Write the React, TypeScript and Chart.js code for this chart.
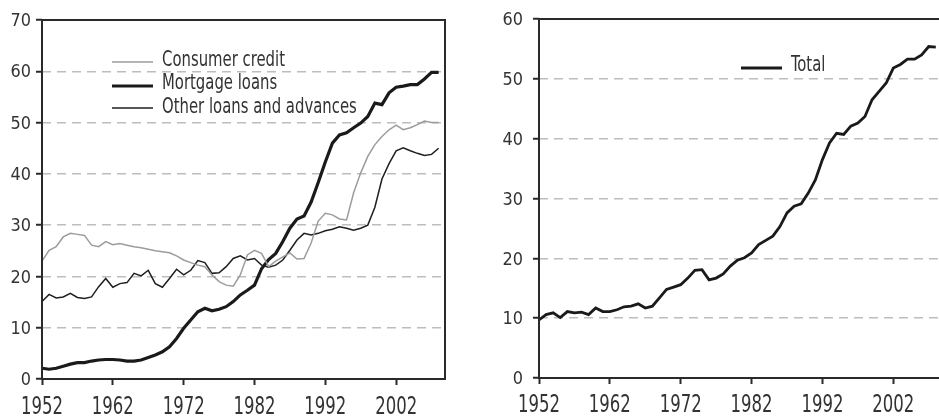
import React, { useEffect, useRef } from "react";
import { Chart, registerables } from "chart.js";

Chart.register(...registerables);

const years = [
  1952, 1953, 1954, 1955, 1956, 1957, 1958, 1959, 1960, 1961,
  1962, 1963, 1964, 1965, 1966, 1967, 1968, 1969, 1970, 1971,
  1972, 1973, 1974, 1975, 1976, 1977, 1978, 1979, 1980, 1981,
  1982, 1983, 1984, 1985, 1986, 1987, 1988, 1989, 1990, 1991,
  1992, 1993, 1994, 1995, 1996, 1997, 1998, 1999, 2000, 2001,
  2002, 2003, 2004, 2005, 2006, 2007, 2008,
];

const consumerCredit = [
  23.0, 25.1, 25.8, 27.7, 28.4, 28.2, 28.0, 26.1, 25.8, 26.8,
  26.2, 26.4, 26.1, 25.8, 25.6, 25.3, 25.0, 24.8, 24.6, 24.0,
  23.2, 22.7, 22.2, 21.9, 20.3, 19.0, 18.3, 18.1, 20.3, 24.2,
  25.1, 24.5, 21.9, 23.0, 23.8, 24.6, 23.4, 23.5, 26.5, 30.8,
  32.3, 32.0, 31.2, 31.0, 36.3, 40.2, 43.4, 45.7, 47.3, 48.6,
  49.5, 48.6, 49.0, 49.6, 50.3, 50.0, 50.0,
];

const mortgageLoans = [
  2.1, 1.9, 2.1, 2.5, 2.9, 3.2, 3.2, 3.5, 3.7, 3.8,
  3.8, 3.7, 3.5, 3.5, 3.7, 4.2, 4.7, 5.3, 6.3, 7.9,
  9.9, 11.5, 13.1, 13.8, 13.3, 13.6, 14.1, 15.1, 16.4, 17.3,
  18.3, 21.5, 23.3, 24.5, 26.8, 29.4, 31.2, 31.8, 34.5, 38.3,
  42.3, 46.0, 47.6, 48.0, 49.0, 49.9, 51.2, 53.8, 53.5, 55.8,
  56.9, 57.1, 57.4, 57.4, 58.5, 59.8, 59.8,
];

const otherLoans = [
  15.1, 16.5, 15.8, 16.0, 16.7, 15.9, 15.7, 16.0, 18.0, 19.6,
  17.9, 18.6, 18.8, 20.6, 20.1, 21.2, 18.6, 17.9, 19.6, 21.4,
  20.3, 21.2, 23.1, 22.7, 20.6, 20.7, 21.9, 23.5, 24.0, 23.2,
  23.5, 22.2, 21.8, 22.2, 23.2, 25.1, 27.1, 28.4, 28.1, 28.4,
  28.9, 29.2, 29.7, 29.4, 29.0, 29.4, 30.0, 33.5, 39.0, 42.0,
  44.5, 45.1, 44.5, 44.0, 43.6, 43.8, 45.0,
];

const total = [
  9.7, 10.6, 10.9, 10.1, 11.1, 10.9, 11.0, 10.6, 11.7, 11.1,
  11.1, 11.4, 11.9, 12.0, 12.4, 11.7, 12.0, 13.4, 14.8, 15.2,
  15.6, 16.7, 18.0, 18.1, 16.4, 16.7, 17.4, 18.7, 19.7, 20.1,
  20.9, 22.3, 23.0, 23.7, 25.3, 27.6, 28.7, 29.1, 30.9, 33.1,
  36.5, 39.3, 40.9, 40.7, 42.1, 42.6, 43.7, 46.5, 47.9, 49.3,
  51.8, 52.4, 53.3, 53.3, 54.0, 55.4, 55.3,
];

const xTickYears = [1952, 1962, 1972, 1982, 1992, 2002];
const leftYTicks = [0, 10, 20, 30, 40, 50, 60, 70];
const rightYTicks = [0, 10, 20, 30, 40, 50, 60];

const leftLegend = ["Consumer credit", "Mortgage loans", "Other loans and advances"];
const rightLegend = ["Total"];

const AXIS_COLOR = "#2a2a2a";
const TEXT_COLOR = "#333333";
const GRID_COLOR = "#bdbdbd";
const FONT = "'DejaVu Sans Condensed', 'DejaVu Sans', sans-serif";

type LegendItem = { label: string; color: string; width: number; y: number; textY: number };

type FrameCfg = {
  drawRight: boolean;
  yTicks: number[];
  yLabelGap: number;
  xBaseline: number;
  legendX: number;
  legendItems: LegendItem[];
};

function drawCondensed(ctx: any, text: string, x: number, y: number, sx: number, align: string) {
  ctx.save();
  ctx.translate(x, y);
  ctx.scale(sx, 1);
  ctx.textAlign = align;
  ctx.fillText(text, 0, 0);
  ctx.restore();
}

function makeFramePlugin(cfg: FrameCfg) {
  return {
    id: "frameAndLabels",
    afterDraw(chart: any) {
      const { ctx, chartArea } = chart;
      const { left, right, top, bottom } = chartArea;
      const xs = chart.scales.x;
      const ys = chart.scales.y;
      ctx.save();
      ctx.strokeStyle = AXIS_COLOR;
      ctx.lineWidth = 2;
      ctx.setLineDash([]);
      ctx.beginPath();
      ctx.moveTo(left, top);
      ctx.lineTo(left, bottom);
      ctx.moveTo(left - 1, bottom);
      ctx.lineTo(right + 1, bottom);
      ctx.moveTo(left - 1, top);
      ctx.lineTo(cfg.drawRight ? right + 1 : chart.width, top);
      if (cfg.drawRight) {
        ctx.moveTo(right, top);
        ctx.lineTo(right, bottom);
      }
      ctx.stroke();

      ctx.fillStyle = TEXT_COLOR;
      ctx.textBaseline = "alphabetic";

      // x tick labels
      ctx.font = `24.5px ${FONT}`;
      const sxX = 42 / ctx.measureText("1952").width;
      xTickYears.forEach((v) => {
        drawCondensed(ctx, String(v), xs.getPixelForValue(v), cfg.xBaseline, sxX, "center");
      });

      // y tick labels
      ctx.font = `17.5px ${FONT}`;
      const sxY = 20.5 / ctx.measureText("10").width;
      cfg.yTicks.forEach((v) => {
        drawCondensed(ctx, String(v), left - cfg.yLabelGap, ys.getPixelForValue(v) + 6.2, sxY, "right");
      });

      // legend
      ctx.font = `20.5px ${FONT}`;
      const sxL = 123 / ctx.measureText("Consumer credit").width;
      cfg.legendItems.forEach((it) => {
        ctx.strokeStyle = it.color;
        ctx.lineWidth = it.width;
        ctx.beginPath();
        ctx.moveTo(cfg.legendX, it.y);
        ctx.lineTo(cfg.legendX + 41, it.y);
        ctx.stroke();
        drawCondensed(ctx, it.label, cfg.legendX + 50, it.textY, sxL, "left");
      });
      ctx.restore();
    },
  };
}

function buildOptions(yMax: number, yTicks: number[], xMax: number, yWidth: number, xHeight: number, padTop: number, padRight: number) {
  return {
    responsive: false,
    animation: false as const,
    events: [],
    layout: { padding: { top: padTop, right: padRight, left: 0, bottom: 0 } },
    plugins: { legend: { display: false }, tooltip: { enabled: false } },
    elements: { point: { radius: 0 }, line: { tension: 0 } },
    scales: {
      x: {
        type: "linear" as const,
        min: 1952,
        max: xMax,
        afterBuildTicks: (scale: any) => {
          scale.ticks = xTickYears.map((v) => ({ value: v }));
        },
        afterFit: (scale: any) => {
          scale.height = xHeight;
        },
        border: { display: false },
        grid: {
          drawOnChartArea: false,
          drawTicks: true,
          tickLength: 6,
          tickWidth: 2,
          tickColor: AXIS_COLOR,
          tickBorderDash: [],
        },
        ticks: { display: false, autoSkip: false, maxRotation: 0 },
      },
      y: {
        type: "linear" as const,
        min: 0,
        max: yMax,
        afterBuildTicks: (scale: any) => {
          scale.ticks = yTicks.map((v) => ({ value: v }));
        },
        afterFit: (scale: any) => {
          scale.width = yWidth;
        },
        border: { display: false, dash: [9, 6] },
        grid: {
          color: (c: any) =>
            c.tick && (c.tick.value === 0 || c.tick.value === yMax) ? "rgba(0,0,0,0)" : GRID_COLOR,
          lineWidth: 1.5,
          drawTicks: true,
          tickLength: 6,
          tickWidth: 2,
          tickColor: AXIS_COLOR,
          tickBorderDash: [],
        },
        ticks: { display: false },
      },
    },
  };
}

function LeftChart() {
  const ref = useRef<HTMLCanvasElement | null>(null);
  useEffect(() => {
    if (!ref.current) return;
    const chart = new Chart(ref.current, {
      type: "line",
      data: {
        datasets: [
          {
            label: leftLegend[0],
            data: years.map((x, i) => ({ x, y: consumerCredit[i] })),
            borderColor: "#9c9c9c",
            borderWidth: 1.5,
          },
          {
            label: leftLegend[2],
            data: years.map((x, i) => ({ x, y: otherLoans[i] })),
            borderColor: "#1f1f1f",
            borderWidth: 1.5,
          },
          {
            label: leftLegend[1],
            data: years.map((x, i) => ({ x, y: mortgageLoans[i] })),
            borderColor: "#1a1a1a",
            borderWidth: 3.2,
          },
        ],
      },
      options: buildOptions(70, leftYTicks, 2008.9, 42, 39, 20, 25) as any,
      plugins: [
        makeFramePlugin({
          drawRight: true,
          yTicks: leftYTicks,
          yLabelGap: 11,
          xBaseline: 413.5,
          legendX: 112,
          legendItems: [
            { label: leftLegend[0], color: "#9c9c9c", width: 1.5, y: 62, textY: 66 },
            { label: leftLegend[1], color: "#1a1a1a", width: 3.2, y: 86, textY: 89 },
            { label: leftLegend[2], color: "#1f1f1f", width: 1.5, y: 108, textY: 113 },
          ],
        }),
      ],
    });
    return () => chart.destroy();
  }, []);
  return <canvas ref={ref} width={470} height={418} style={{ position: "absolute", left: 0, top: 0 }} />;
}

function RightChart() {
  const ref = useRef<HTMLCanvasElement | null>(null);
  useEffect(() => {
    if (!ref.current) return;
    const chart = new Chart(ref.current, {
      type: "line",
      data: {
        datasets: [
          {
            label: rightLegend[0],
            data: years.map((x, i) => ({ x, y: total[i] })),
            borderColor: "#1a1a1a",
            borderWidth: 2.8,
          },
        ],
      },
      options: buildOptions(60, rightYTicks, 2008.45, 69, 40, 19, 0) as any,
      plugins: [
        makeFramePlugin({
          drawRight: false,
          yTicks: rightYTicks,
          yLabelGap: 16,
          xBaseline: 411.5,
          legendX: 271,
          legendItems: [{ label: rightLegend[0], color: "#1a1a1a", width: 2.8, y: 68, textY: 71 }],
        }),
      ],
    });
    return () => chart.destroy();
  }, []);
  return <canvas ref={ref} width={469} height={418} style={{ position: "absolute", left: 470, top: 0 }} />;
}

export default function App() {
  return (
    <div
      style={{
        position: "absolute",
        left: 0,
        top: 0,
        width: 939,
        height: 418,
        background: "#ffffff",
        overflow: "hidden",
      }}
    >
      <LeftChart />
      <RightChart />
    </div>
  );
}
